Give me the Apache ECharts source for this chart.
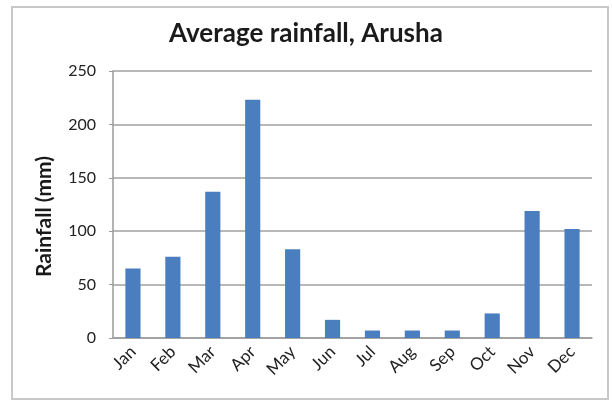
<!DOCTYPE html>
<html>
<head>
<meta charset="utf-8">
<script src="https://cdn.jsdelivr.net/npm/echarts@6/dist/echarts.min.js"></script>
<style>
	html, body { margin: 0; padding: 0; background: #fff; }
	#main { width: 612px; height: 403px; }
</style>
</head>
<body>
<div id="main"></div>
<script>
// chart data
const months = ['Jan', 'Feb', 'Mar', 'Apr', 'May', 'Jun', 'Jul', 'Aug', 'Sep', 'Oct', 'Nov', 'Dec']
const rainfall = [65, 76, 137, 223, 83, 17, 7, 7, 7, 23, 119, 102]
const yTicks = [0, 50, 100, 150, 200, 250]

const myChart = echarts.init(document.getElementById('main'))
const font = 'Lato, "Open Sans", sans-serif'

myChart.setOption({
	animation: false,
	textStyle: { fontFamily: font },
	graphic: [
		{
			type: 'rect',
			shape: { x: 12, y: 7, width: 596, height: 392 },
			style: { fill: '#fff', stroke: '#c8c8c8', lineWidth: 2 },
			z: -10
		}
	],
	title: {
		text: 'Average rainfall, Arusha',
		left: 'center',
		top: 16,
		textStyle: { fontFamily: font, fontSize: 26, fontWeight: 'bold', color: '#1a1a1a' }
	},
	grid: {
		left: 113,
		right: 20,
		top: 71,
		bottom: 65
	},
	xAxis: {
		type: 'category',
		data: months,
		axisLine: { lineStyle: { color: '#9a9a9a', width: 1.5 } },
		axisTick: { show: false },
		axisLabel: {
			rotate: 45,
			interval: 0,
			fontSize: 17,
			color: '#222',
			margin: 11
		}
	},
	yAxis: {
		type: 'value',
		min: yTicks[0],
		max: yTicks[yTicks.length - 1],
		interval: 50,
		name: 'Rainfall (mm)',
		nameLocation: 'middle',
		nameGap: 58,
		nameTextStyle: { fontFamily: font, fontSize: 21, fontWeight: 'bold', color: '#1a1a1a', padding: [0, 24, 0, 0] },
		axisLine: { show: true, lineStyle: { color: '#9a9a9a', width: 1.5 } },
		axisTick: { show: true, length: 4, lineStyle: { color: '#9a9a9a' } },
		axisLabel: { fontSize: 16, color: '#222', margin: 17 },
		splitLine: { lineStyle: { color: '#a0a0a0', width: 1.5 } }
	},
	series: [
		{
			name: 'Rainfall',
			type: 'bar',
			data: rainfall,
			barWidth: '38%',
			itemStyle: { color: '#4a7ebf' }
		}
	]
})
</script>
</body>
</html>
